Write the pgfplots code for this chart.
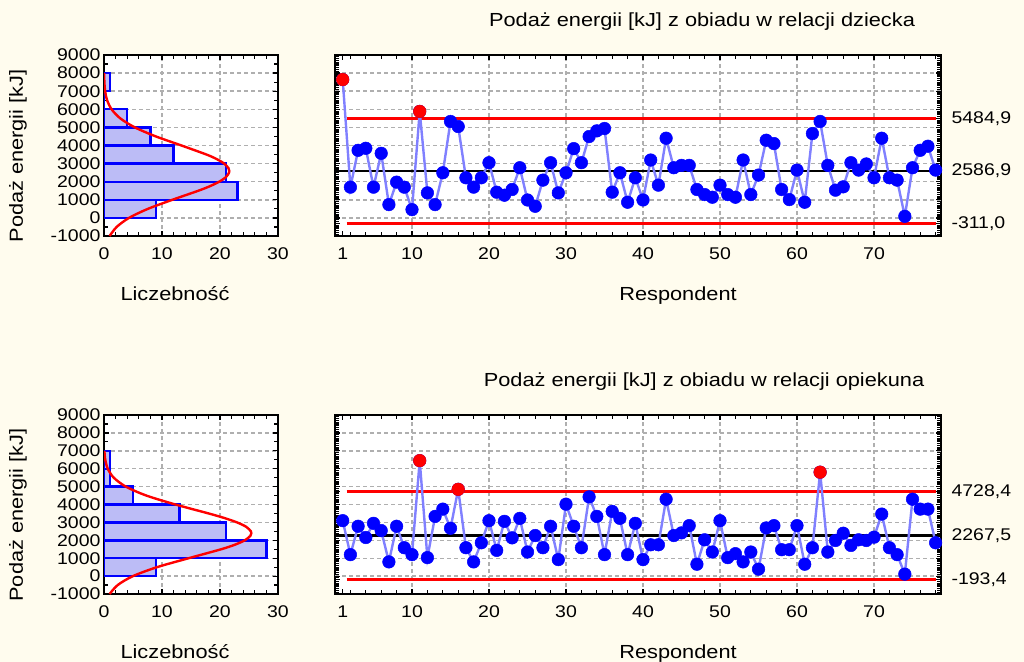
\documentclass[border=0pt]{standalone}
\usepackage{pgfplots}
\pgfplotsset{compat=1.18}
\usepackage{fontspec}
\setmainfont{Liberation Sans}[FakeStretch=1.15]

\definecolor{bg}{RGB}{255,252,238}
\definecolor{barfill}{RGB}{188,188,246}
\definecolor{linec}{RGB}{128,128,255}
\definecolor{gridc}{RGB}{175,175,175}
\definecolor{ctrlred}{RGB}{255,0,0}

\newcommand\tickfont{\fontsize{17}{17}\selectfont}
\newcommand\labfont{\fontsize{19}{19}\selectfont}

\pgfplotsset{
  common/.style={
    scale only axis,
    axis line style={line width=2.2bp},
    tick style={black, line width=1.2bp},
    major tick length=5bp, minor tick length=4bp,
    tick align=inside,
    ticklabel style={font=\tickfont},
    xticklabel style={yshift=-8bp},
    major grid style={gridc, line width=1.4bp, dash pattern=on 4bp off 3bp},
    axis background/.style={fill=white},
    ymin=-1000, ymax=9000,
    scaled ticks=false,
    xtick pos=both, ytick pos=both,
    xticklabel pos=lower,
  },
  hist/.style={
    common, width=174bp, height=181bp,
    xmin=0, xmax=30,
    xtick={0,10,20,30}, xticklabels={0,10,20,30},
    minor xtick={2,4,...,28},
    ytick={-1000,0,1000,2000,3000,4000,5000,6000,7000,8000,9000},
    yticklabels={-1000,0,1000,2000,3000,4000,5000,6000,7000,8000,9000},
    minor ytick={-500,500,1500,2500,3500,4500,5500,6500,7500,8500},
    yticklabel pos=left,
    xmajorgrids, ymajorgrids,
  },
  ctrl/.style={
    common, width=606bp, height=181bp,
    xmin=0, xmax=78.7,
    xtick={10,20,30,40,50,60,70}, xticklabels={10,20,30,40,50,60,70},
    extra x ticks={1}, extra x tick labels={1}, extra x tick style={grid=none},
    minor xtick={2,4,...,78},
    xmajorgrids,
    yticklabel pos=right,
    yticklabel style={xshift=7bp},
    extra y ticks={0,1000,2000,3000,4000,5000,6000,7000,8000},
    extra y tick labels={}, extra y tick style={grid=major},
    minor ytick={-1000,-900,...,9000},
  },
  series/.style={linec, line width=2.4bp, mark=*, mark size=6.3bp,
    mark options={draw=blue, fill=blue, solid, line width=0.5bp}},
  outl/.style={only marks, mark=*, mark size=6.3bp, mark options={draw=ctrlred, fill=ctrlred, line width=0.5bp}},
  cline/.style={ctrlred, line width=2.6bp},
  mline/.style={black, line width=2.6bp},
}

\begin{document}
\begin{tikzpicture}
\useasboundingbox (0,0) rectangle (1024bp,-662bp);
\fill[bg] (0,0) rectangle (1024bp,-662bp);

% ---------------- top row ----------------
\begin{axis}[hist, at={(104bp,-236bp)}, anchor=south west]
\addplot[xbar interval, draw=blue, line width=2.4bp, fill=barfill] coordinates {
(9,0) (23,1000) (21,2000) (12,3000) (8,4000) (4,5000) (0,6000) (1,7000) (1,8000)};
\addplot[ctrlred, line width=2.4bp, smooth] coordinates {
(0.97,-1000) (2.18,-500) (4.31,0) (7.57,500) (11.78,1000) (16.26,1500) (18.25,1750)
(19.87,2000) (21.02,2250) (21.56,2500) (21.6,2587) (21.46,2750) (20.73,3000) (19.43,3250)
(17.67,3500) (13.36,4000) (8.95,4500) (5.32,5000) (2.80,5500) (1.31,6000) (0.54,6500)
(0.20,7000) (0.065,7500) (0.019,8000)};
\end{axis}

\begin{axis}[ctrl, at={(335bp,-236bp)}, anchor=south west,
  ytick={-311.0,2586.9,5484.9}, yticklabels={{-311,0},{2586,9},{5484,9}}]
\addplot[mline] coordinates {(0,2586.9) (78.7,2586.9)};
\addplot[cline] coordinates {(1.5,5484.9) (78,5484.9)};
\addplot[cline] coordinates {(1.5,-311.0) (78,-311.0)};
\addplot[series] coordinates {
(1,7643) (2,1698) (3,3735) (4,3846) (5,1698) (6,3568) (7,735) (8,1976) (9,1698) (10,457)
(11,5883) (12,1383) (13,735) (14,2494) (15,5328) (16,5050) (17,2217) (18,1698) (19,2217) (20,3050)
(21,1420) (22,1253) (23,1568) (24,2772) (25,990) (26,642) (27,2087) (28,3050) (29,1383) (30,2494)
(31,3828) (32,3050) (33,4494) (34,4809) (35,4939) (36,1420) (37,2494) (38,865) (39,2217) (40,990)
(41,3198) (42,1809) (43,4402) (44,2772) (45,2902) (46,2902) (47,1568) (48,1290) (49,1142) (50,1809)
(51,1290) (52,1142) (53,3198) (54,1290) (55,2365) (56,4291) (57,4106) (58,1568) (59,1013) (60,2642)
(61,865) (62,4661) (63,5328) (64,2902) (65,1531) (66,1716) (67,3050) (68,2642) (69,2980) (70,2217)
(71,4402) (72,2217) (73,2087) (74,87) (75,2772) (76,3735) (77,3960) (78,2642)};
\addplot[outl] coordinates {(1,7643) (11,5883)};
\end{axis}

\node[font=\labfont, anchor=base] at (702bp,-26.7bp) {Podaż energii [kJ] z obiadu w relacji dziecka};
\node[font=\labfont, anchor=base] at (175bp,-300bp) {Liczebność};
\node[font=\labfont, anchor=base] at (678bp,-300bp) {Respondent};
\node[font=\labfont, rotate=90] at (18bp,-156bp) {Podaż energii [kJ]};

% ---------------- bottom row ----------------
\begin{axis}[hist, at={(104bp,-594bp)}, anchor=south west, height=179bp]
\addplot[xbar interval, draw=blue, line width=2.4bp, fill=barfill] coordinates {
(9,0) (28,1000) (21,2000) (13,3000) (5,4000) (1,5000) (1,6000) (1,7000)};
\addplot[ctrlred, line width=2.4bp, smooth] coordinates {
(0.97,-1000) (2.36,-500) (4.99,0) (9.15,500) (14.6,1000) (20.2,1500) (22.54,1750)
(24.28,2000) (25.24,2250) (25.4,2400) (25.33,2500) (24.54,2750) (22.94,3000) (20.71,3250)
(18.04,3500) (12.32,4000) (7.30,4500) (3.76,5000) (1.68,5500) (0.65,6000) (0.22,6500)
(0.064,7000)};
\end{axis}

\begin{axis}[ctrl, at={(335bp,-594bp)}, anchor=south west, height=179bp,
  ytick={-193.4,2267.5,4728.4}, yticklabels={{-193,4},{2267,5},{4728,4}}]
\addplot[mline] coordinates {(0,2267.5) (78.7,2267.5)};
\addplot[cline] coordinates {(1.5,4728.4) (78,4728.4)};
\addplot[cline] coordinates {(1.5,-193.4) (78,-193.4)};
\addplot[series] coordinates {
(1,3097) (2,1199) (3,2784) (4,2157) (5,2949) (6,2544) (7,793) (8,2784) (9,1586) (10,1199)
(11,6451) (12,1033) (13,3336) (14,3742) (15,2673) (16,4848) (17,1586) (18,793) (19,1862) (20,3097)
(21,1438) (22,3060) (23,2138) (24,3226) (25,1346) (26,2267) (27,1586) (28,2784) (29,922) (30,4018)
(31,2784) (32,1586) (33,4424) (34,3336) (35,1199) (36,3613) (37,3226) (38,1199) (39,2949) (40,922)
(41,1751) (42,1751) (43,4295) (44,2267) (45,2415) (46,2820) (47,664) (48,2028) (49,1346) (50,3097)
(51,1033) (52,1254) (53,793) (54,1346) (55,388) (56,2691) (57,2820) (58,1475) (59,1475) (60,2820)
(61,664) (62,1586) (63,5806) (64,1346) (65,1991) (66,2396) (67,1714) (68,2028) (69,1991) (70,2175)
(71,3465) (72,1586) (73,1199) (74,111) (75,4295) (76,3742) (77,3742) (78,1862)};
\addplot[outl] coordinates {(11,6451) (16,4848) (63,5806)};
\end{axis}

\node[font=\labfont, anchor=base] at (704bp,-386bp) {Podaż energii [kJ] z obiadu w relacji opiekuna};
\node[font=\labfont, anchor=base] at (175bp,-658bp) {Liczebność};
\node[font=\labfont, anchor=base] at (678bp,-658bp) {Respondent};
\node[font=\labfont, rotate=90] at (18bp,-515bp) {Podaż energii [kJ]};
\end{tikzpicture}
\end{document}
